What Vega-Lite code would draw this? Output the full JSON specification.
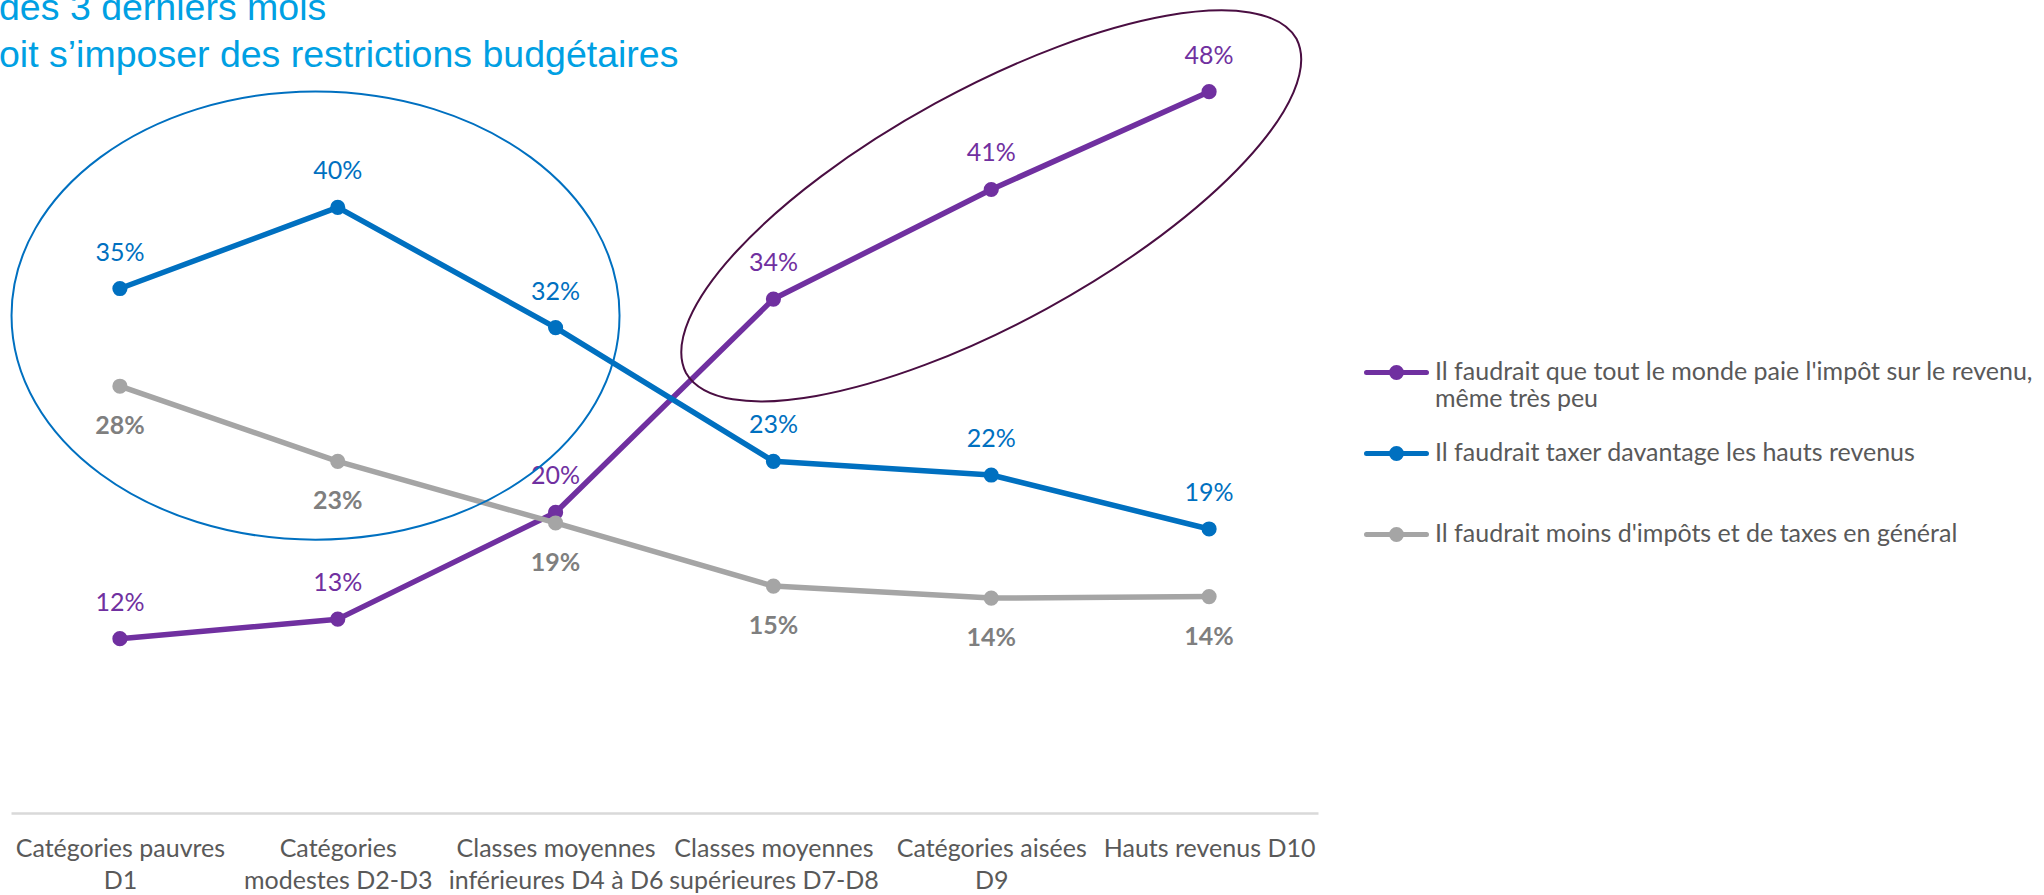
{
  "$schema": "https://vega.github.io/schema/vega-lite/v6.json",
  "autosize": {"type": "none"},
  "width": 1307,
  "height": 813,
  "padding": {"left": 11, "top": 0, "right": 726, "bottom": 82},
  "background": "#ffffff",
  "config": {"view": {"stroke": null}},
  "title": {
    "text": ["des 3 derniers mois", "oit s’imposer des restrictions budgétaires"],
    "anchor": "start",
    "frame": "group",
    "offset": -104,
    "dx": -12,
    "baseline": "alphabetic",
    "font": "Liberation Sans",
    "fontSize": 37.5,
    "fontWeight": "normal",
    "color": "#00A0E3",
    "lineHeight": 47
  },
  "datasets": {
    "series": [
      {"i": 0, "serie": "Il faudrait que tout le monde paie l'impôt sur le revenu, même très peu", "groupe": "haut", "v": 0.116},
      {"i": 1, "serie": "Il faudrait que tout le monde paie l'impôt sur le revenu, même très peu", "groupe": "haut", "v": 0.129},
      {"i": 2, "serie": "Il faudrait que tout le monde paie l'impôt sur le revenu, même très peu", "groupe": "haut", "v": 0.200},
      {"i": 3, "serie": "Il faudrait que tout le monde paie l'impôt sur le revenu, même très peu", "groupe": "haut", "v": 0.342},
      {"i": 4, "serie": "Il faudrait que tout le monde paie l'impôt sur le revenu, même très peu", "groupe": "haut", "v": 0.4149},
      {"i": 5, "serie": "Il faudrait que tout le monde paie l'impôt sur le revenu, même très peu", "groupe": "haut", "v": 0.480},
      {"i": 0, "serie": "Il faudrait taxer davantage les hauts revenus", "groupe": "haut", "v": 0.349},
      {"i": 1, "serie": "Il faudrait taxer davantage les hauts revenus", "groupe": "haut", "v": 0.403},
      {"i": 2, "serie": "Il faudrait taxer davantage les hauts revenus", "groupe": "haut", "v": 0.323},
      {"i": 3, "serie": "Il faudrait taxer davantage les hauts revenus", "groupe": "haut", "v": 0.234},
      {"i": 4, "serie": "Il faudrait taxer davantage les hauts revenus", "groupe": "haut", "v": 0.2249},
      {"i": 5, "serie": "Il faudrait taxer davantage les hauts revenus", "groupe": "haut", "v": 0.189},
      {"i": 0, "serie": "Il faudrait moins d'impôts et de taxes en général", "groupe": "bas", "v": 0.284},
      {"i": 1, "serie": "Il faudrait moins d'impôts et de taxes en général", "groupe": "bas", "v": 0.234},
      {"i": 2, "serie": "Il faudrait moins d'impôts et de taxes en général", "groupe": "bas", "v": 0.193},
      {"i": 3, "serie": "Il faudrait moins d'impôts et de taxes en général", "groupe": "bas", "v": 0.151},
      {"i": 4, "serie": "Il faudrait moins d'impôts et de taxes en général", "groupe": "bas", "v": 0.143},
      {"i": 5, "serie": "Il faudrait moins d'impôts et de taxes en général", "groupe": "bas", "v": 0.144}
    ],
    "ellipses": [
      {"i": 0.898, "v": 0.331, "zone": "gauche"},
      {"i": 4.0, "v": 0.404, "zone": "droite"}
    ]
  },
  "layer": [
    {
      "data": {"name": "series"},
      "mark": {"type": "line", "strokeWidth": 5.5, "strokeJoin": "round"},
      "encoding": {
        "x": {
          "field": "i", "type": "quantitative",
          "scale": {"domain": [-0.5, 5.5], "nice": false, "zero": false},
          "axis": {
            "values": [0, 1, 2, 3, 4, 5],
            "labelExpr": "[['Catégories pauvres', 'D1'], ['Catégories', 'modestes D2-D3'], ['Classes moyennes', 'inférieures D4 à D6'], ['Classes moyennes', 'supérieures D7-D8'], ['Catégories aisées', 'D9'], ['Hauts revenus D10']][datum.value]",
            "title": null,
            "ticks": false,
            "grid": false,
            "domainColor": "#D9D9D9",
            "domainWidth": 2.5,
            "labelFont": "Lato",
            "labelFontSize": 25,
            "labelColor": "#595959",
            "labelPadding": 23,
            "labelLineHeight": 32,
            "labelBaseline": "top",
            "labelFlush": false,
            "labelOverlap": false,
            "labelBound": false,
            "labelLimit": 400
          }
        },
        "y": {"field": "v", "type": "quantitative", "scale": {"domain": [0, 0.541], "nice": false}, "axis": null},
        "color": {
          "field": "serie", "type": "nominal",
          "scale": {
            "domain": ["Il faudrait que tout le monde paie l'impôt sur le revenu, même très peu", "Il faudrait taxer davantage les hauts revenus", "Il faudrait moins d'impôts et de taxes en général"],
            "range": ["#7030A0", "#0070C0", "#A5A5A5"]
          },
          "legend": {
            "orient": "none",
            "legendX": 1353,
            "legendY": 340,
            "title": null,
            "padding": 0,
            "symbolType": "M-1,0L1,0M-0.167,0A0.167,0.167,0,1,1,0.167,0A0.167,0.167,0,1,1,-0.167,0Z",
            "symbolSize": 3600,
            "symbolStrokeWidth": 5,
            "labelFont": "Lato",
            "labelFontSize": 25,
            "labelColor": "#595959",
            "labelLimit": 900,
            "labelOffset": 6,
            "labelBaseline": "top",
            "labelLineHeight": 31,
            "rowPadding": 9,
            "gridAlign": "all",
            "labelExpr": "indexof(datum.label, 'monde') >= 0 ? [\"Il faudrait que tout le monde paie l'impôt sur le revenu,\", 'même très peu'] : datum.label",
            "encode": {
              "symbols": {"update": {"fill": {"scale": "color", "field": "value"}, "stroke": {"scale": "color", "field": "value"}, "strokeCap": {"value": "round"}, "opacity": {"value": 1}}},
              "labels": {"update": {"dy": {"value": -13}}}
            }
          }
        }
      }
    },
    {
      "data": {"name": "series"},
      "mark": {"type": "point", "filled": true, "size": 230, "opacity": 1},
      "encoding": {
        "x": {"field": "i", "type": "quantitative"},
        "y": {"field": "v", "type": "quantitative"},
        "color": {"field": "serie", "type": "nominal"}
      }
    },
    {
      "data": {"name": "series"},
      "transform": [{"filter": "datum.groupe == 'haut'"}],
      "mark": {"type": "text", "dy": -36, "baseline": "middle", "align": "center", "font": "Lato", "fontSize": 25},
      "encoding": {
        "x": {"field": "i", "type": "quantitative"},
        "y": {"field": "v", "type": "quantitative"},
        "text": {"field": "v", "type": "quantitative", "format": ".0%"},
        "color": {"field": "serie", "type": "nominal", "legend": null}
      }
    },
    {
      "data": {"name": "series"},
      "transform": [{"filter": "datum.groupe == 'bas'"}],
      "mark": {"type": "text", "dy": 40, "baseline": "middle", "align": "center", "font": "Lato", "fontSize": 25, "fontWeight": "bold", "color": "#7F7F7F"},
      "encoding": {
        "x": {"field": "i", "type": "quantitative"},
        "y": {"field": "v", "type": "quantitative"},
        "text": {"field": "v", "type": "quantitative", "format": ".0%"}
      }
    },
    {
      "data": {"name": "ellipses"},
      "transform": [{"filter": "datum.zone == 'gauche'"}],
      "mark": {"type": "point", "filled": false, "shape": "M-1,0A1,0.737,0,1,1,1,0A1,0.737,0,1,1,-1,0Z", "size": 369664, "stroke": "#0070C0", "strokeWidth": 2, "opacity": 1},
      "encoding": {
        "x": {"field": "i", "type": "quantitative"},
        "y": {"field": "v", "type": "quantitative"}
      }
    },
    {
      "data": {"name": "ellipses"},
      "transform": [{"filter": "datum.zone == 'droite'"}],
      "mark": {"type": "point", "filled": false, "shape": "M-0.8771,0.4802A1,0.339,-28.7,0,1,0.8771,-0.4802A1,0.339,-28.7,0,1,-0.8771,0.4802Z", "size": 484416, "stroke": "#4A0E42", "strokeWidth": 2, "opacity": 1},
      "encoding": {
        "x": {"field": "i", "type": "quantitative"},
        "y": {"field": "v", "type": "quantitative"}
      }
    }
  ]
}
